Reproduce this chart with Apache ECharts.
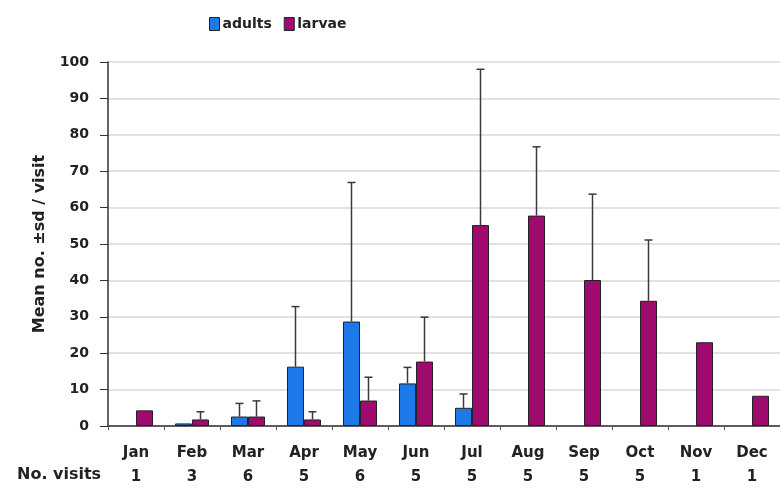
<!DOCTYPE html>
<html>
<head>
<meta charset="utf-8">
<script src="https://cdn.jsdelivr.net/npm/echarts@6/dist/echarts.min.js"></script>
<style>
  html, body { margin: 0; padding: 0; background: #fff; }
  #chart { width: 780px; height: 491px; }
</style>
</head>
<body>
<div id="chart"></div>
<script>
// Monthly means with +1 sd, and the number of visits per month (null = none recorded)
const months = ['Jan', 'Feb', 'Mar', 'Apr', 'May', 'Jun', 'Jul', 'Aug', 'Sep', 'Oct', 'Nov', 'Dec'];
const visits = [1, 3, 6, 5, 6, 5, 5, 5, 5, 5, 1, 1];
const adultsMean = [null, 0.7, 2.6, 16.3, 28.7, 11.7, 5.0, null, null, null, null, null];
const adultsSd   = [0, 0, 3.6, 16.5, 38.2, 4.4, 3.8, 0, 0, 0, 0, 0];
const larvaeMean = [4.3, 1.8, 2.6, 1.8, 7.0, 17.7, 55.2, 57.8, 40.1, 34.4, 23.0, 8.3];
const larvaeSd   = [0, 2.1, 4.3, 2.1, 6.4, 12.2, 42.8, 18.9, 23.6, 16.7, 0, 0];
const yTicks = { min: 0, max: 100, interval: 10 };

const BLUE = '#1f78e8';
const PURPLE = '#a0096e';
const BAR_W = 17;
const FONT = 'DejaVu Sans';

// Error bar drawn above a bar; side -1 = left bar of the pair, +1 = right bar
function errorBar(side) {
  return function (params, api) {
    const idx = api.value(0);
    const mean = api.value(1);
    const sd = api.value(2);
    if (!sd) return null;
    const base = api.coord([idx, mean]);
    const top = api.coord([idx, mean + sd]);
    const x = base[0] + side * BAR_W / 2;
    const cap = 4;
    const style = { stroke: '#3a3a3a', lineWidth: 1.5 };
    return {
      type: 'group',
      children: [
        { type: 'line', shape: { x1: x, y1: base[1], x2: x, y2: top[1] }, style: style },
        { type: 'line', shape: { x1: x - cap, y1: top[1], x2: x + cap, y2: top[1] }, style: style }
      ]
    };
  };
}

const chart = echarts.init(document.getElementById('chart'));
chart.setOption({
  animation: false,
  textStyle: { fontFamily: FONT },
  legend: {
    left: 204, top: 12,
    itemWidth: 10, itemHeight: 13, itemGap: 12,
    icon: 'rect',
    textStyle: { fontFamily: FONT, fontWeight: 'bold', fontSize: 14, color: '#222', padding: [0, 0, 0, -2] },
    data: [
      { name: 'adults', itemStyle: { color: BLUE, borderColor: '#222', borderWidth: 1 } },
      { name: 'larvae', itemStyle: { color: PURPLE, borderColor: '#222', borderWidth: 1 } }
    ]
  },
  grid: { left: 108, right: 0, top: 62, bottom: 65 },
  xAxis: {
    type: 'category',
    data: months,
    axisLine: { lineStyle: { color: '#333', width: 1.5 } },
    axisTick: { show: true, length: 4, lineStyle: { color: '#555' } },
    axisLabel: {
      margin: 15,
      color: '#222',
      fontFamily: FONT,
      fontWeight: 'bold',
      fontSize: 15,
      lineHeight: 24,
      formatter: function (v, i) { return v + '\n' + visits[i]; }
    }
  },
  yAxis: {
    type: 'value',
    min: yTicks.min, max: yTicks.max, interval: yTicks.interval,
    name: 'Mean no. \u00b1sd / visit',
    nameLocation: 'middle',
    nameRotate: 90,
    nameGap: 60,
    nameTextStyle: { fontFamily: FONT, fontWeight: 'bold', fontSize: 16, color: '#222' },
    axisLine: { show: true, lineStyle: { color: '#333', width: 1.5 } },
    axisTick: { show: true, length: 8, lineStyle: { color: '#333' } },
    axisLabel: { margin: 19, color: '#222', fontFamily: FONT, fontWeight: 'bold', fontSize: 14 },
    splitLine: { lineStyle: { color: '#d8d8d8', width: 1.5 } }
  },
  graphic: [{
    type: 'text',
    left: 17, top: 467,
    style: { text: 'No. visits', font: 'bold 16px "' + FONT + '"', fill: '#222' }
  }],
  series: [
    {
      name: 'adults', type: 'bar', data: adultsMean,
      barWidth: BAR_W, barGap: '0%',
      itemStyle: { color: BLUE, borderColor: '#222', borderWidth: 1 }
    },
    {
      name: 'larvae', type: 'bar', data: larvaeMean,
      barWidth: BAR_W, barGap: '0%',
      itemStyle: { color: PURPLE, borderColor: '#222', borderWidth: 1 }
    },
    {
      type: 'custom', name: 'adults sd', renderItem: errorBar(-1), z: 5,
      data: months.map((m, i) => [i, adultsMean[i] || 0, adultsSd[i]])
    },
    {
      type: 'custom', name: 'larvae sd', renderItem: errorBar(1), z: 5,
      data: months.map((m, i) => [i, larvaeMean[i], larvaeSd[i]])
    }
  ]
});
</script>
</body>
</html>
